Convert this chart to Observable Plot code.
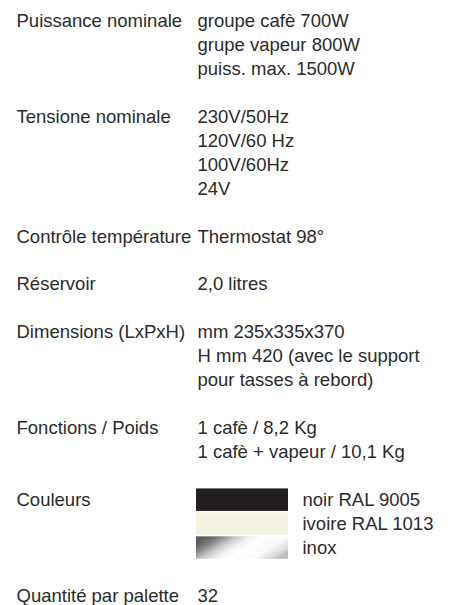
<!DOCTYPE html>
<html>
<head>
<meta charset="utf-8">
<script src="https://cdn.jsdelivr.net/npm/d3@7"></script>
<script src="https://cdn.jsdelivr.net/npm/@observablehq/plot@0.6"></script>
<style>
  html, body { margin: 0; padding: 0; background: #fff; }
</style>
</head>
<body>
<div id="chart"></div>
<script>
// ---- data ----
const labels = [
  "Puissance nominale",
  "Tensione nominale",
  "Contrôle température",
  "Réservoir",
  "Dimensions (LxPxH)",
  "Fonctions / Poids",
  "Couleurs",
  "Quantité par palette"
];
const values = [
  ["groupe cafè 700W", "grupe vapeur 800W", "puiss. max. 1500W"],
  ["230V/50Hz", "120V/60 Hz", "100V/60Hz", "24V"],
  ["Thermostat 98°"],
  ["2,0 litres"],
  ["mm 235x335x370", "H mm 420 (avec le support", "pour tasses à rebord)"],
  ["1 cafè / 8,2 Kg", "1 cafè + vapeur / 10,1 Kg"],
  [],
  ["32"]
];
const colorSection = "Couleurs";
const colorNames = ["noir RAL 9005", "ivoire RAL 1013", "inox"];
const colorFills = ["#231f20", "#f4f3e2", "url(#inox)"];

// ---- layout (columns, in page units) ----
const COL_LABEL = 16, COL_VALUE = 196, COL_SWATCH_END = 288, COL_COLOR_TEXT = 302;

// ---- build line table ----
const labelRows = [], valueRows = [], swatchRows = [];
let line = 0;
labels.forEach((lab, i) => {
  labelRows.push({text: lab, line});
  let n;
  if (lab === colorSection) {
    colorNames.forEach((c, k) => {
      swatchRows.push({name: c, fill: colorFills[k], line: line + k});
    });
    n = colorNames.length;
  } else {
    values[i].forEach((v, k) => valueRows.push({text: v, line: line + k}));
    n = Math.max(1, values[i].length);
  }
  line += n + 1;
});
const lastLine = line - 2;

const textColor = "#2b2b2b";
const font = "'Liberation Sans', Arial, Helvetica, sans-serif";

const defs = () => {
  const g = d3.create("svg:defs");
  const lg = g.append("linearGradient").attr("id", "inox")
    .attr("x1", "0").attr("y1", "0.3").attr("x2", "1").attr("y2", "0.7");
  [[0, "#5e5e5e"], [0.12, "#7c7c7c"], [0.28, "#c8c8c8"], [0.42, "#f2f2f2"],
   [0.55, "#ffffff"], [0.78, "#f8f8f8"], [0.92, "#dcdcdc"], [1, "#bdbdbd"]]
    .forEach(([o, c]) => lg.append("stop").attr("offset", o).attr("stop-color", c));
  return g.node();
};

const chart = Plot.plot({
  width: 451,
  height: 605,
  margin: 0,
  style: {fontFamily: font, background: "#fff"},
  x: {type: "linear", domain: [0, 451], range: [0, 451], axis: null},
  y: {type: "linear", domain: [0, lastLine], range: [20.5, 595.5], axis: null},
  marks: [
    defs,
    Plot.rect(swatchRows, {
      x1: () => COL_VALUE, x2: () => COL_SWATCH_END,
      y1: d => d.line - 0.47, y2: d => d.line + 0.47,
      fill: d => d.fill
    }),
    Plot.text(labelRows, {
      x: () => COL_LABEL, y: "line", text: "text",
      textAnchor: "start", lineAnchor: "middle",
      fontSize: 18.5, fill: textColor
    }),
    Plot.text(valueRows, {
      x: () => COL_VALUE + 1, y: "line", text: "text",
      textAnchor: "start", lineAnchor: "middle",
      fontSize: 18.5, fill: textColor
    }),
    Plot.text(swatchRows, {
      x: () => COL_COLOR_TEXT, y: "line", text: "name",
      textAnchor: "start", lineAnchor: "middle",
      fontSize: 18.5, fill: textColor
    })
  ]
});
document.getElementById("chart").appendChild(chart);
</script>
</body>
</html>
